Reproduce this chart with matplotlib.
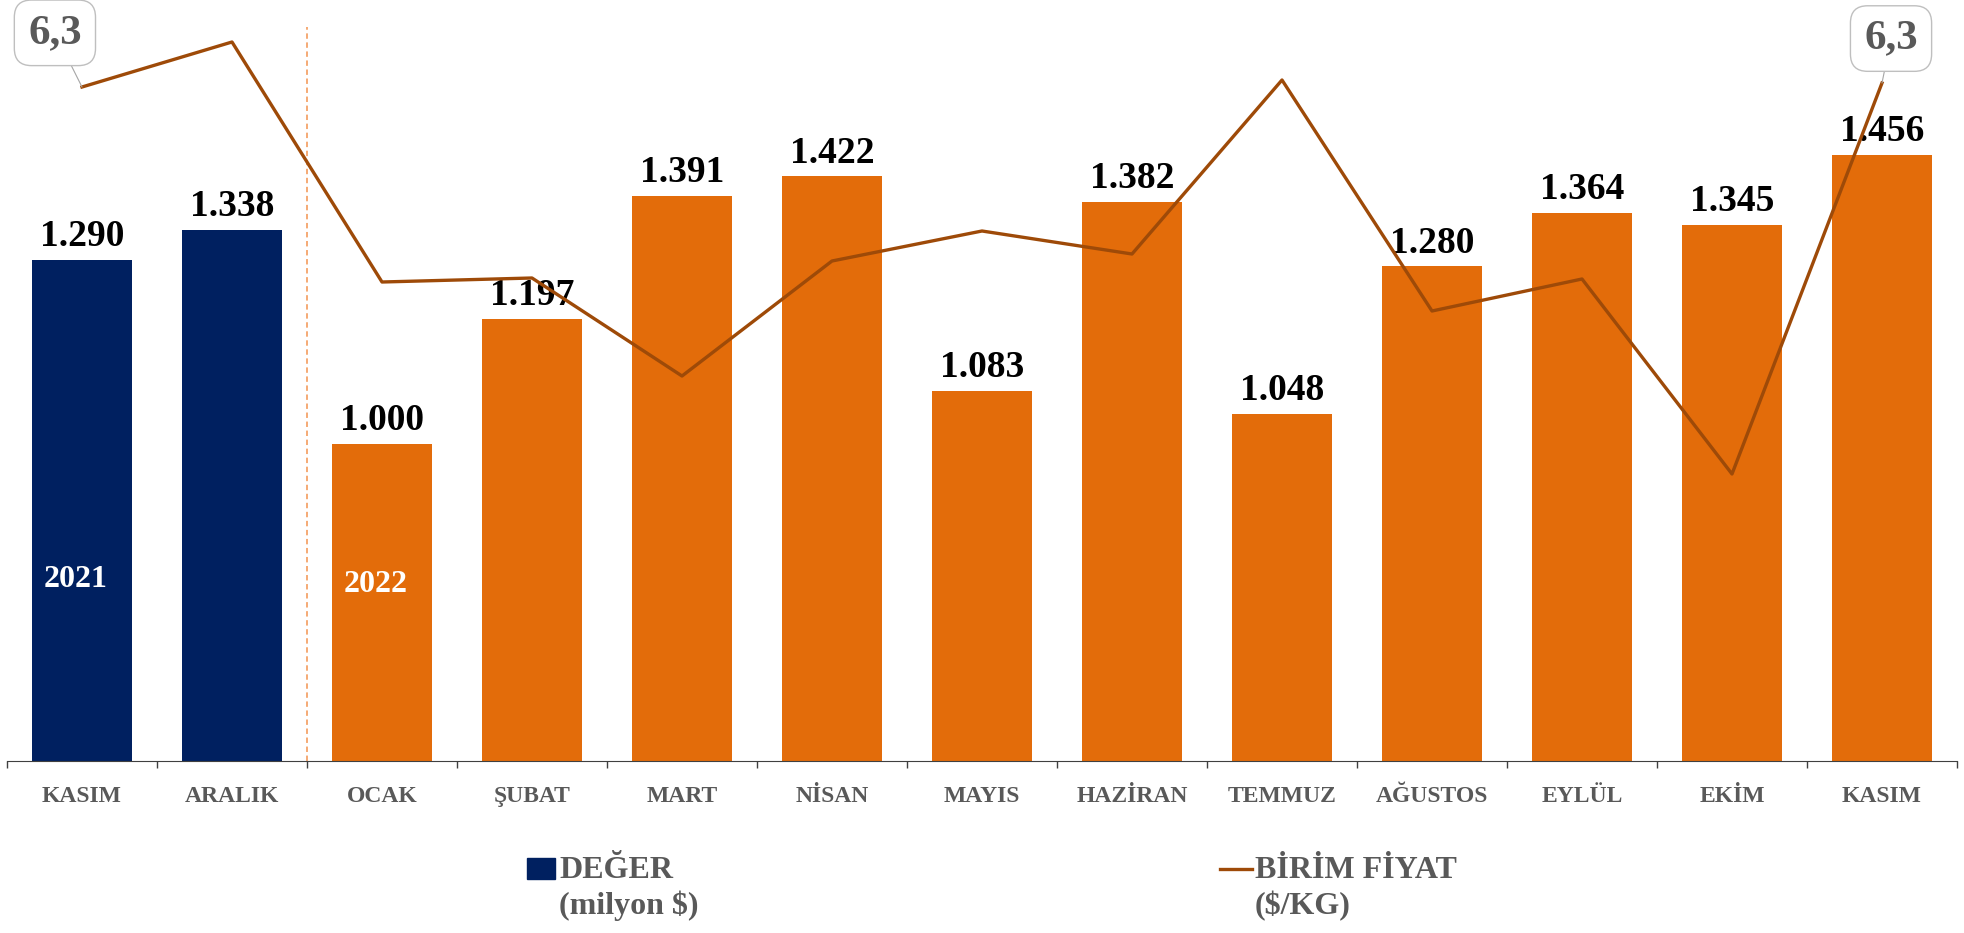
import matplotlib.pyplot as plt
from matplotlib.patches import Rectangle
from matplotlib.lines import Line2D

months = ['KASIM', 'ARALIK', 'OCAK', 'ŞUBAT', 'MART', 'NİSAN', 'MAYIS',
          'HAZİRAN', 'TEMMUZ', 'AĞUSTOS', 'EYLÜL', 'EKİM', 'KASIM']
deger = [1290, 1338, 1000, 1197, 1391, 1422, 1083, 1382, 1048, 1280, 1364, 1345, 1456]
birim_fiyat = [6.29, 6.515, 5.315, 5.335, 4.845, 5.42, 5.57, 5.455, 6.325, 5.17, 5.33, 4.355, 6.31]
years = ['2021', '2022']

navy = '#002060'
orange = '#E36C0A'
brown = '#9E4A08'
gray = '#595959'

plt.rcParams['font.family'] = ['Liberation Serif', 'DejaVu Serif']

W, H = 1965, 933
fig = plt.figure(figsize=(W / 100, H / 100), dpi=100)
ax = fig.add_axes([7 / W, (H - 761) / H, 1950 / W, 741 / H])

x = list(range(len(months)))
colors = [navy if i < 2 else orange for i in x]
ax.bar(x, deger, width=0.673, color=colors, zorder=2)
ax.set_xlim(-0.5, len(months) - 0.5)
ax.set_ylim(500, 500 + 741 / 0.634)

for xi, v in zip(x, deger):
    ax.annotate(f'{v:,}'.replace(',', '.'), (xi, v), xytext=(0, 10),
                textcoords='offset points', ha='center', va='baseline',
                fontsize=27, fontweight='bold', color='black')

ax.text(-0.04, 787, years[0], ha='center', va='center', fontsize=23,
        fontweight='bold', color='white')
ax.text(1.96, 778, years[1], ha='center', va='center', fontsize=23,
        fontweight='bold', color='white')

ax.axvline(1.5, ymin=0, ymax=(761 - 27) / 741, color='#F4A46A', lw=1.3,
           ls=(0, (3, 2)), zorder=1)

for s in ['top', 'right', 'left']:
    ax.spines[s].set_visible(False)
ax.spines['bottom'].set_color('#404040')
ax.set_yticks([])
ax.set_xticks(x)
ax.set_xticklabels(months, fontsize=17, fontweight='bold', color=gray)
ax.set_xticks([i - 0.5 for i in range(len(months) + 1)], minor=True)
ax.tick_params(axis='x', which='major', length=0, pad=18)
ax.tick_params(axis='x', which='minor', length=5, color='#404040', width=1)

ax2 = ax.twinx()
ax2.plot(x, birim_fiyat, color=brown, lw=2.4, zorder=3)
ax2.set_ylim(6.3 - 676 / 200, 6.3 + 65 / 200)
ax2.axis('off')

box = dict(boxstyle='round,pad=0.32,rounding_size=0.4', fc='white', ec='#BFBFBF', lw=1)
for i, off in [(0, (-19.5, 39)), (len(months) - 1, (6.5, 32))]:
    ax2.annotate(f'{birim_fiyat[i]:.1f}'.replace('.', ','), (i, birim_fiyat[i]),
                 xytext=off, textcoords='offset points', ha='center', va='center',
                 fontsize=31, fontweight='bold', color=gray, bbox=box,
                 arrowprops=dict(arrowstyle='-', color='#A6A6A6', lw=0.8,
                                 shrinkA=0, shrinkB=0))

# legend
fig.add_artist(Rectangle((527 / W, (H - 879) / H), 28 / W, 21 / H,
                         transform=fig.transFigure, color=navy))
fig.add_artist(Line2D([1220 / W, 1252 / W], [(H - 869) / H] * 2,
                      transform=fig.transFigure, color=brown, lw=2.4))
fig.text(559 / W, (H - 878) / H, 'DEĞER', fontsize=23, fontweight='bold', color=gray)
fig.text(559 / W, (H - 914) / H, '(milyon $)', fontsize=23, fontweight='bold', color=gray)
fig.text(1255 / W, (H - 878) / H, 'BİRİM FİYAT', fontsize=23, fontweight='bold', color=gray)
fig.text(1255 / W, (H - 914) / H, '($/KG)', fontsize=23, fontweight='bold', color=gray)

fig.savefig('out.png', dpi=100)
